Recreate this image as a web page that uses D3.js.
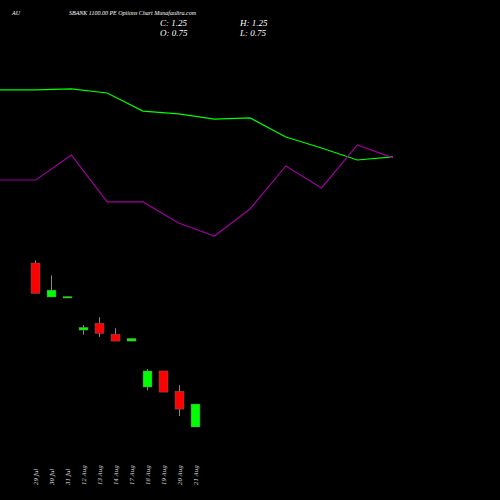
<!DOCTYPE html>
<html><head><meta charset="utf-8">
<script src="https://cdn.jsdelivr.net/npm/d3@7"></script>
<style>body{margin:0;background:#000}</style></head>
<body><svg id="c" width="500" height="500"></svg>
<script>
// candle data
var dates = ["29 Jul","30 Jul","31 Jul","12 Aug","13 Aug","14 Aug","17 Aug","18 Aug","19 Aug","20 Aug","21 Aug"];
var opens  = [4.32, 3.58, 3.58, 2.86, 3.01, 2.77, 2.62, 1.62, 1.97, 1.53, 0.75];
var highs  = [4.38, 4.05, 3.60, 2.97, 3.14, 2.90, 2.68, 2.01, 1.97, 1.66, 1.25];
var lows   = [3.66, 3.58, 3.57, 2.76, 2.71, 2.62, 2.62, 1.55, 1.51, 0.99, 0.75];
var closes = [3.66, 3.73, 3.59, 2.92, 2.79, 2.62, 2.68, 1.97, 1.51, 1.14, 1.25];
// overlay lines (relative units)
var greenLine  = [93.8, 93.8, 94.4, 91.9, 80.6, 78.8, 75.6, 76.3, 64.4, 57.5, 50, 51.9];
var purpleLine = [37.5, 37.5, 53.1, 23.8, 23.8, 10.6, 2.5, 19.4, 46.3, 32.5, 59.4, 51.3];

var svg = d3.select("#c");
svg.append("rect").attr("width",500).attr("height",500).attr("fill","#000");

var x = d3.scaleBand().domain(dates).range([27.5, 203.5]).paddingInner(0.44).paddingOuter(0.22);
var y = d3.scaleLinear().domain([0.75, 4.32]).range([427, 263]);

var lx = d3.scaleLinear().domain([0, 11]).range([0, 393]);
var ly = d3.scaleLinear().domain([0, 100]).range([240, 80]);

var line = d3.line().x(function(d,i){ return lx(i); }).y(function(d){ return ly(d); });
svg.append("path").datum(greenLine).attr("d", line).attr("fill","none").attr("stroke","#00ff00").attr("stroke-width",1.2);
svg.append("path").datum(purpleLine).attr("d", line).attr("fill","none").attr("stroke","#a000a0").attr("stroke-width",1.2);

var g = svg.append("g");
dates.forEach(function(d, i){
  var cx = x(d) + x.bandwidth()/2;
  var up = closes[i] >= opens[i];
  g.append("line").attr("x1",cx).attr("x2",cx).attr("y1",y(highs[i])).attr("y2",y(lows[i]))
    .attr("stroke","#888").attr("stroke-width",1);
  var top = y(Math.max(opens[i], closes[i])), bot = y(Math.min(opens[i], closes[i]));
  g.append("rect").attr("x",x(d)).attr("width",x.bandwidth()).attr("y",top).attr("height",Math.max(1.5, bot-top))
    .attr("fill", up ? "#00ff00" : "#ff0000").attr("stroke","#666").attr("stroke-width",0.5);
  svg.append("text").attr("transform","translate(" + (cx+2) + ",485) rotate(-90)")
    .attr("fill","#ddd").attr("font-family","DejaVu Serif, serif").attr("font-style","italic").attr("font-size",5.5)
    .text(d);
});

var f = "Liberation Serif, serif";
svg.append("text").attr("x",12).attr("y",15).attr("fill","#fff").attr("font-family",f).attr("font-style","italic").attr("font-size",6).text("AU");
svg.append("text").attr("x",69).attr("y",15).attr("fill","#fff").attr("font-family",f).attr("font-style","italic").attr("font-size",6).text("SBANK 1100.00  PE Options  Chart Munafaultra.com");
[["C: 1.25",160,26],["O: 0.75",160,36],["H: 1.25",240,26],["L: 0.75",240,36]].forEach(function(t){
  svg.append("text").attr("x",t[1]).attr("y",t[2]).attr("fill","#fff").attr("font-family",f).attr("font-style","italic").attr("font-size",9).text(t[0]);
});
</script></body></html>
